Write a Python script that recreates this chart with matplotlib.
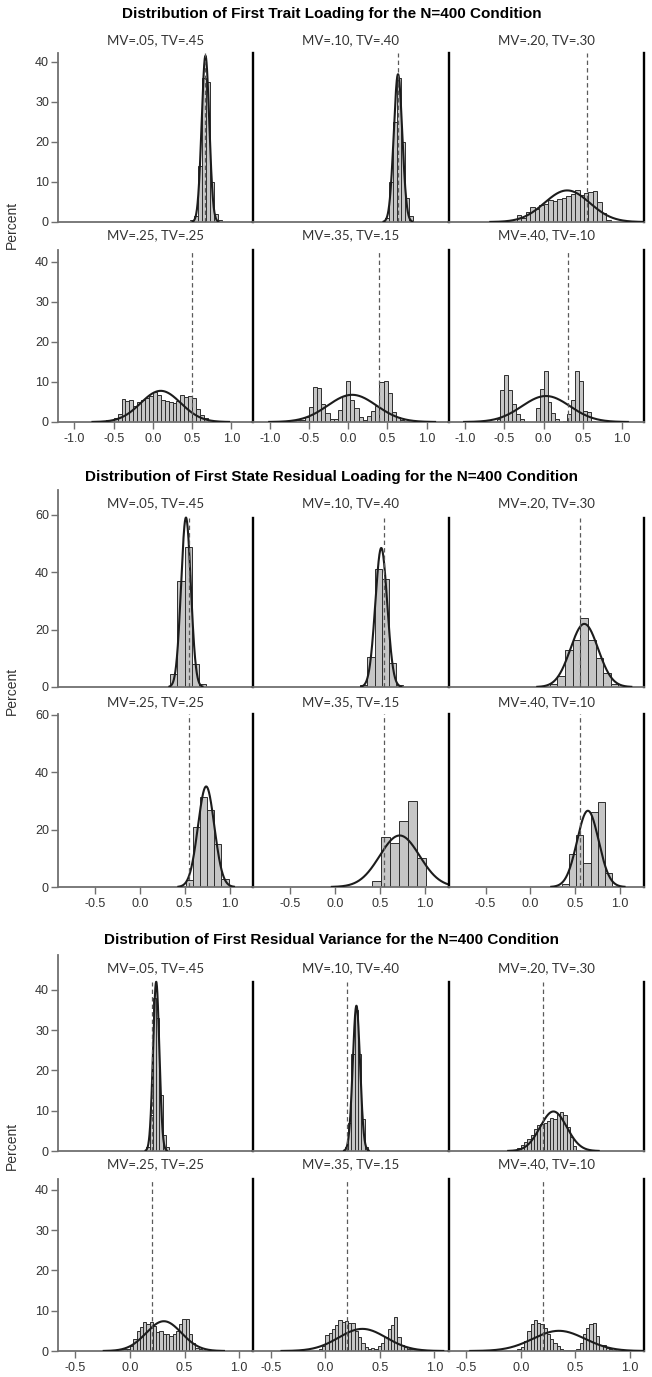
import numpy as np
import matplotlib
matplotlib.use("Agg")
import matplotlib.pyplot as plt

plt.rcParams['axes.unicode_minus'] = False
NARROW = ['Liberation Sans Narrow', 'Liberation Sans', 'DejaVu Sans']
plt.rcParams['font.family'] = NARROW

W, H = 652, 1377

conditions = ['MV=.05, TV=.45', 'MV=.10, TV=.40', 'MV=.20, TV=.30',
              'MV=.25, TV=.25', 'MV=.35, TV=.15', 'MV=.40, TV=.10']

# first trait loading
trait_title = 'Distribution of First Trait Loading for the N=400 Condition'
trait_true = [0.67, 0.632, 0.548, 0.50, 0.387, 0.316]
trait_width = [0.05, 0.05, 0.057, 0.05, 0.053, 0.05]
trait_start = [0.475, 0.475, -0.34, -0.65, -0.715, -0.60]
trait_pct = [
    [0.5, 1.5, 14, 36, 35, 10, 2, 0.5],
    [1, 10, 25, 36, 20, 6, 1.5],
    [1.8, 1.0, 2.6, 3.8, 3.2, 4.3, 4.5, 5.5, 5.2, 5.8, 6.0, 6.5, 7.0, 8.1, 6.8,
     7.2, 7.5, 7.8, 5.0, 2.3, 0.6],
    [0.2, 0.4, 0.6, 1.0, 2.0, 5.8, 5.3, 5.5, 4.0, 5.0, 5.6, 6.0, 6.5, 7.5, 6.8,
     5.5, 5.3, 5.0, 4.8, 5.3, 6.8, 6.3, 6.6, 6.0, 3.3, 1.8, 1.0, 0.5, 0.3],
    [0.2, 0.4, 0.6, 1.2, 3.7, 8.8, 8.5, 4.5, 2.2, 0.8, 0.8, 2.9, 6.4, 10.2,
     5.6, 3.5, 1.2, 0.6, 1.4, 2.8, 4.0, 10.0, 10.2, 7.3, 2.4, 1.2, 0.6, 0.3],
    [0.8, 8.0, 11.7, 8.0, 4.5, 2.0, 0.8, 0, 0, 0, 3.6, 8.3, 12.7, 4.9, 2.3,
     0.8, 0, 0.3, 1.9, 5.5, 12.7, 10.3, 2.8, 2.6, 0.3],
]
trait_mean = [0.67, 0.635, 0.30, 0.10, 0.05, 0.03]
trait_sd = [0.048, 0.054, 0.288, 0.256, 0.311, 0.307]

# first state residual loading
state_title = 'Distribution of First State Residual Loading for the N=400 Condition'
state_true = [0.548] * 6
state_width = [0.08, 0.08, 0.085, 0.08, 0.10, 0.08]
state_start = [0.34, 0.28, 0.215, 0.43, 0.41, 0.35]
state_pct = [
    [4.5, 37, 49, 8, 1],
    [0.8, 10.6, 41, 37.6, 8.5, 0.8],
    [1, 4, 13, 16.4, 24, 16.4, 10, 5, 1.2],
    [0.3, 2.5, 21, 31.5, 27, 15, 2.7],
    [2, 17.5, 15.5, 23, 30, 10],
    [1, 11.5, 18, 8.3, 26, 29.5, 5, 0.5],
]
state_mean = [0.515, 0.515, 0.60, 0.74, 0.72, 0.64]
state_sd = [0.054, 0.0658, 0.154, 0.091, 0.222, 0.12]

# first residual variance
resid_title = 'Distribution of First Residual Variance for the N=400 Condition'
resid_true = [0.2] * 6
resid_width = [0.03] * 6
resid_start = [0.15, 0.18, -0.06, -0.09, -0.06, -0.03]
resid_pct = [
    [1, 9, 38, 33, 14, 4, 1],
    [1, 7, 24, 35, 24, 8, 1],
    [0.3, 0.8, 1.5, 2.2, 3.0, 4.0, 5.5, 6.5, 6.8, 7.0, 7.5, 8.2, 8.0, 9.2, 9.8,
     9.0, 6.0, 3.5, 1.2, 0.3],
    [0.2, 0.4, 0.6, 1.2, 3.0, 5.0, 6.0, 7.3, 6.7, 7.3, 6.3, 4.6, 5.0, 4.2, 4.2,
     3.8, 4.2, 5.0, 6.7, 7.9, 7.9, 4.2, 2.1, 0.8, 0.4, 0.2],
    [0.5, 1.2, 4.0, 4.5, 5.5, 6.5, 7.8, 7.2, 7.5, 7.0, 7.0, 5.0, 3.5, 2.0, 1.0,
     0.6, 0.8, 0.6, 1.2, 2.0, 3.5, 5.5, 6.5, 8.5, 3.5, 1.5, 1.0, 0.6, 0.4, 0.3,
     0.2],
    [0.5, 1.0, 2.6, 4.9, 6.6, 7.6, 7.0, 6.7, 5.8, 4.1, 2.9, 2.1, 1.2, 0.6, 0.3,
     0.2, 0.2, 0.3, 0.5, 2.0, 4.1, 5.8, 6.6, 7.0, 3.7, 1.6, 1.6, 0.8, 0.4, 0.2],
]
resid_mean = [0.24, 0.285, 0.30, 0.31, 0.34, 0.35]
resid_sd = [0.0285, 0.0332, 0.122, 0.162, 0.218, 0.239]

# layout in pixels: rows = (top, bottom, top of separators)
sections = [
    dict(title=trait_title, title_y=14, rows=[(53, 222, 53), (250, 422, 250)],
         ppu=4.0, xlim=(-1.21, 1.28), xticks=[-1.0, -0.5, 0.0, 0.5, 1.0],
         yticks=[0, 10, 20, 30, 40], sub_y=[40, 235], pct_y=225,
         true=trait_true, width=trait_width, start=trait_start,
         pct=trait_pct, mean=trait_mean, sd=trait_sd),
    dict(title=state_title, title_y=477, rows=[(490, 687, 518), (714, 887, 714)],
         ppu=2.867, xlim=(-0.91, 1.265), xticks=[-0.5, 0.0, 0.5, 1.0],
         yticks=[0, 20, 40, 60], sub_y=[503, 702], pct_y=691,
         true=state_true, width=state_width, start=state_start,
         pct=state_pct, mean=state_mean, sd=state_sd),
    dict(title=resid_title, title_y=940, rows=[(955, 1151, 982), (1179, 1351, 1179)],
         ppu=4.03, xlim=(-0.66, 1.13), xticks=[-0.5, 0.0, 0.5, 1.0],
         yticks=[0, 10, 20, 30, 40], sub_y=[968, 1164], pct_y=1146,
         true=resid_true, width=resid_width, start=resid_start,
         pct=resid_pct, mean=resid_mean, sd=resid_sd),
]

panel_left = [58, 253.3, 448.7]
panel_w = 195.3
GRAY = '#707070'

fig = plt.figure(figsize=(W / 100, H / 100), dpi=100)

for sec in sections:
    fig.text(332 / W, 1 - sec['title_y'] / H, sec['title'], ha='center',
             va='center', fontsize=11, fontweight='bold', color='black')
    fig.text(12 / W, 1 - sec['pct_y'] / H, 'Percent', rotation=90, ha='center',
             va='center', fontsize=10, color='#333333',
             family=['Liberation Sans', 'DejaVu Sans'])
    for r, (top, bottom, septop) in enumerate(sec['rows']):
        ytop = (bottom - top) / sec['ppu']
        sep = (bottom - septop) / sec['ppu']
        for c in range(3):
            k = r * 3 + c
            ax = fig.add_axes([panel_left[c] / W, 1 - bottom / H,
                               panel_w / W, (bottom - top) / H])
            ax.set_xlim(*sec['xlim'])
            ax.set_ylim(0, ytop)

            w = sec['width'][k]
            h = np.array(sec['pct'][k], dtype=float)
            lefts = sec['start'][k] + w * np.arange(len(h))
            keep = h > 0
            ax.bar(lefts[keep], h[keep], width=w, align='edge', color='#c6c6c6',
                   edgecolor='#2e2e2e', linewidth=0.7, zorder=2)

            mu, sd = sec['mean'][k], sec['sd'][k]
            xs = np.linspace(max(sec['xlim'][0], mu - 3.4 * sd),
                             min(sec['xlim'][1], mu + 3.4 * sd), 400)
            ys = 100 * w * np.exp(-0.5 * ((xs - mu) / sd) ** 2) / (sd * np.sqrt(2 * np.pi))
            ax.plot(xs, ys, color='#1c1c1c', lw=1.5, zorder=3)

            ref = sec['true'][k]
            ax.plot([ref, ref], [0, sep], color='#5a5a5a', lw=0.9,
                    ls=(0, (3.5, 2.5)), zorder=4)

            ax.spines['top'].set_visible(False)
            ax.spines['bottom'].set_color(GRAY)
            ax.spines['bottom'].set_linewidth(1.3)
            if c == 0:
                ax.spines['left'].set_color(GRAY)
                ax.spines['left'].set_linewidth(1.3)
            else:
                ax.spines['left'].set_color('black')
                ax.spines['left'].set_linewidth(1.7)
                ax.spines['left'].set_bounds(0, sep)
            if c == 2:
                ax.spines['right'].set_color('black')
                ax.spines['right'].set_linewidth(1.7)
                ax.spines['right'].set_bounds(0, sep)
            else:
                ax.spines['right'].set_visible(False)
            ax.set_zorder(1 + c)
            ax.patch.set_alpha(0)

            ax.set_yticks(sec['yticks'])
            ax.set_xticks(sec['xticks'])
            ax.set_xticklabels([f'{t:.1f}' for t in sec['xticks']])
            ax.tick_params(axis='y', left=(c == 0), labelleft=(c == 0),
                           length=5, width=1, color=GRAY, labelsize=9,
                           labelcolor='#333333', pad=1.5)
            ax.tick_params(axis='x', bottom=(r == 1), labelbottom=(r == 1),
                           length=5, width=1, color=GRAY, labelsize=9,
                           labelcolor='#333333', pad=3)

            fig.text((panel_left[c] + panel_w / 2) / W, 1 - sec['sub_y'][r] / H,
                     conditions[k], ha='center', va='center', fontsize=9.5,
                     color='#333333', family=['Lato', 'DejaVu Sans'])

fig.savefig('out.png', dpi=100)
